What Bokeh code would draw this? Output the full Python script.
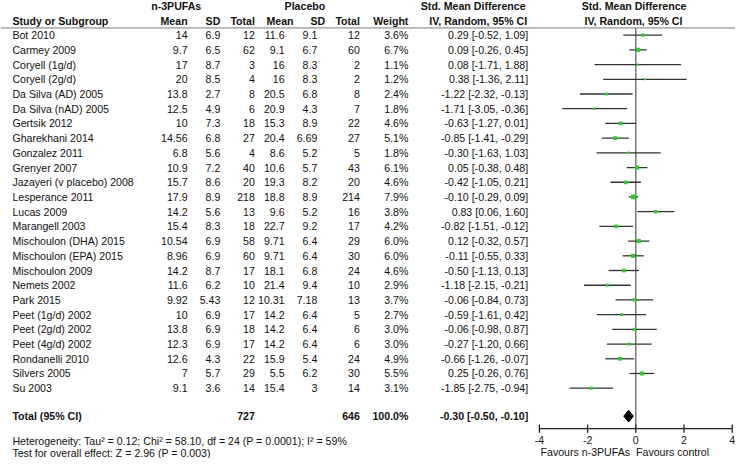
from bokeh.plotting import figure
from bokeh.models import Range1d, ColumnDataSource
from bokeh.embed import file_html
from bokeh.resources import INLINE
from bokeh.core.properties import value

# ---------------- data ----------------
studies = ["Bot 2010", "Carmey 2009", "Coryell (1g/d)", "Coryell (2g/d)", "Da Silva (AD) 2005",
           "Da Silva (nAD) 2005", "Gertsik 2012", "Gharekhani 2014", "Gonzalez 2011", "Grenyer 2007",
           "Jazayeri (v placebo) 2008", "Lesperance 2011", "Lucas 2009", "Marangell 2003",
           "Mischoulon (DHA) 2015", "Mischoulon (EPA) 2015", "Mischoulon 2009", "Nemets 2002",
           "Park 2015", "Peet (1g/d) 2002", "Peet (2g/d) 2002", "Peet (4g/d) 2002",
           "Rondanelli 2010", "Silvers 2005", "Su 2003"]
n3_mean = [14, 9.7, 17, 20, 13.8, 12.5, 10, 14.56, 6.8, 10.9, 15.7, 17.9, 14.2, 15.4, 10.54, 8.96,
           14.2, 11.6, 9.92, 10, 13.8, 12.3, 12.6, 7, 9.1]
n3_sd = [6.9, 6.5, 8.7, 8.5, 2.7, 4.9, 7.3, 6.8, 5.6, 7.2, 8.6, 8.9, 5.6, 8.3, 6.9, 6.9, 8.7, 6.2,
         5.43, 6.9, 6.9, 6.9, 4.3, 5.7, 3.6]
n3_total = [12, 62, 3, 4, 8, 6, 18, 27, 4, 40, 20, 218, 13, 18, 58, 60, 17, 10, 12, 17, 18, 17, 22, 29, 14]
pl_mean = [11.6, 9.1, 16, 16, 20.5, 20.9, 15.3, 20.4, 8.6, 10.6, 19.3, 18.8, 9.6, 22.7, 9.71, 9.71,
           18.1, 21.4, 10.31, 14.2, 14.2, 14.2, 15.9, 5.5, 15.4]
pl_sd = [9.1, 6.7, 8.3, 8.3, 6.8, 4.3, 8.9, 6.69, 5.2, 5.7, 8.2, 8.9, 5.2, 9.2, 6.4, 6.4, 6.8, 9.4,
         7.18, 6.4, 6.4, 6.4, 5.4, 6.2, 3]
pl_total = [12, 60, 2, 2, 8, 7, 22, 27, 5, 43, 20, 214, 16, 17, 29, 30, 24, 10, 13, 5, 6, 6, 24, 30, 14]
weight = [3.6, 6.7, 1.1, 1.2, 2.4, 1.8, 4.6, 5.1, 1.8, 6.1, 4.6, 7.9, 3.8, 4.2, 6.0, 6.0, 4.6, 2.9,
          3.7, 2.7, 3.0, 3.0, 4.9, 5.5, 3.1]
smd = [0.29, 0.09, 0.08, 0.38, -1.22, -1.71, -0.63, -0.85, -0.30, 0.05, -0.42, -0.10, 0.83, -0.82,
       0.12, -0.11, -0.50, -1.18, -0.06, -0.59, -0.06, -0.27, -0.66, 0.25, -1.85]
ci_low = [-0.52, -0.26, -1.71, -1.36, -2.32, -3.05, -1.27, -1.41, -1.63, -0.38, -1.05, -0.29, 0.06,
          -1.51, -0.32, -0.55, -1.13, -2.15, -0.84, -1.61, -0.98, -1.20, -1.26, -0.26, -2.75]
ci_high = [1.09, 0.45, 1.88, 2.11, -0.13, -0.36, 0.01, -0.29, 1.03, 0.48, 0.21, 0.09, 1.60, -0.12,
           0.57, 0.33, 0.13, -0.21, 0.73, 0.42, 0.87, 0.66, -0.07, 0.76, -0.94]

total_n3 = 727
total_pl = 646
total_weight = 100.0
total_smd = -0.30
total_low = -0.50
total_high = -0.10

axis_ticks = [-4, -2, 0, 2, 4]
axis_labels = ["-4", "-2", "0", "2", "4"]

heterogeneity = "Heterogeneity: Tau\u00b2 = 0.12; Chi\u00b2 = 58.10, df = 24 (P = 0.0001); I\u00b2 = 59%"
overall = "Test for overall effect: Z = 2.96 (P = 0.003)"

# ---------------- layout ----------------
W, H = 735, 458
FONT = value("Liberation Sans")
FS = "10.6px"
TXT = "#111111"

rows = list(range(len(studies)))
src = ColumnDataSource(dict(
    row=rows,
    study=studies,
    n3m=[f"{v:g}" for v in n3_mean],
    n3s=[f"{v:g}" for v in n3_sd],
    n3t=[f"{v:g}" for v in n3_total],
    plm=[f"{v:g}" for v in pl_mean],
    pls=[f"{v:g}" for v in pl_sd],
    plt=[f"{v:g}" for v in pl_total],
    w=[f"{v:.1f}%" for v in weight],
    ci=[f"{e:.2f} [{l:.2f}, {h:.2f}]" for e, l, h in zip(smd, ci_low, ci_high)],
    est=smd, lo=ci_low, hi=ci_high,
    size=[1.6 * (v ** 0.5) + 0.3 for v in weight],
))

p = figure(width=W, height=H, output_backend="svg", toolbar_location=None,
           x_range=Range1d(0, W), y_range=Range1d(28.78, -2.357),
           x_axis_type=None, y_axis_type=None, min_border=0)
p.extra_x_ranges = {"smd": Range1d(-26.36, 4.137)}
p.xgrid.visible = False
p.ygrid.visible = False
p.outline_line_color = None
p.background_fill_color = "white"
p.border_fill_color = "white"


def txt(x, y, t, align="left", bold=False, source=None, **kw):
    args = dict(x=x, y=y, text=t, text_align=align, text_baseline="middle",
                text_font=FONT, text_font_size=FS, text_color=TXT,
                text_font_style="bold" if bold else "normal")
    args.update(kw)
    if source is not None:
        args["source"] = source
    p.text(**args)


# column anchors (screen units)
X_STUDY, X_N3M, X_N3S, X_N3T = 11.9, 187.1, 219.8, 254.4
X_PLM, X_PLS, X_PLT = 284.1, 316.8, 359.4
X_W, X_CI = 407.9, 527.7

# headers
HY1, HY2, HLINE = -1.962, -0.948, -0.490
txt(175.7, HY1, ["n-3PUFAs"], "center", True)
txt(304.4, HY1, ["Placebo"], "center", True)
txt(472.7, HY1, ["Std. Mean Difference"], "center", True)
txt(633.6, HY1, ["Std. Mean Difference"], "center", True)
txt(X_STUDY, HY2, ["Study or Subgroup"], "left", True)
txt(X_N3M, HY2, ["Mean"], "right", True)
txt(X_N3S, HY2, ["SD"], "right", True)
txt(X_N3T, HY2, ["Total"], "right", True)
txt(293.0, HY2, ["Mean"], "right", True)
txt(324.7, HY2, ["SD"], "right", True)
txt(X_PLT, HY2, ["Total"], "right", True)
txt(X_W, HY2, ["Weight"], "right", True)
txt(477.7, HY2, ["IV, Random, 95% CI"], "center", True)
txt(633.0, HY2, ["IV, Random, 95% CI"], "center", True)
p.segment(x0=[0], x1=[W], y0=[HLINE], y1=[HLINE], line_color="#7a7a7a", line_width=1)

# study rows
txt(X_STUDY, "row", "study", "left", source=src)
txt(X_N3M, "row", "n3m", "right", source=src)
txt(X_N3S, "row", "n3s", "right", source=src)
txt(X_N3T, "row", "n3t", "right", source=src)
txt(X_PLM, "row", "plm", "right", source=src)
txt(X_PLS, "row", "pls", "right", source=src)
txt(X_PLT, "row", "plt", "right", source=src)
txt(X_W, "row", "w", "right", source=src)
txt(X_CI, "row", "ci", "right", source=src)

# total row
TROW = 25.90
txt(X_STUDY, TROW, ["Total (95% CI)"], "left", True)
txt(X_N3T, TROW, [f"{total_n3}"], "right", True)
txt(X_PLT, TROW, [f"{total_pl}"], "right", True)
txt(X_W, TROW, [f"{total_weight:.1f}%"], "right", True)
txt(X_CI, TROW, [f"{total_smd:.2f} [{total_low:.2f}, {total_high:.2f}]"], "right", True)

# footnotes
txt(X_STUDY, 27.60, [heterogeneity], "left")
txt(X_STUDY, 28.38, [overall], "left")

# forest plot
AXY = 26.75
p.segment(x0=[0], x1=[0], y0=[HLINE], y1=[AXY], line_color="#555555", line_width=1.2,
          x_range_name="smd")
p.segment(x0="lo", x1="hi", y0="row", y1="row", source=src, line_color="#333333",
          line_width=1.3, x_range_name="smd")
p.scatter(x="est", y="row", size="size", marker="square", source=src,
          fill_color="#2ecc2e", line_color=None, x_range_name="smd")
DH = 0.40
p.patch(x=[total_low, total_smd, total_high, total_smd],
        y=[TROW, TROW - DH, TROW, TROW + DH],
        fill_color="black", line_color="black", line_width=1, x_range_name="smd")

# axis
p.segment(x0=[axis_ticks[0]], x1=[axis_ticks[-1]], y0=[AXY], y1=[AXY], line_color="#222222",
          line_width=1.3, x_range_name="smd")
p.segment(x0=axis_ticks, x1=axis_ticks, y0=[AXY - 0.28] * len(axis_ticks),
          y1=[AXY + 0.28] * len(axis_ticks), line_color="#222222", line_width=1.3,
          x_range_name="smd")
p.text(x=axis_ticks, y=[27.54] * len(axis_ticks), text=axis_labels, text_align="center",
       text_baseline="middle", text_font=FONT, text_font_size=FS, text_color=TXT,
       x_range_name="smd")
p.text(x=[-0.24], y=[28.32], text=["Favours n-3PUFAs"], text_align="right",
       text_baseline="middle", text_font=FONT, text_font_size=FS, text_color=TXT,
       x_range_name="smd")
p.text(x=[0.01], y=[28.32], text=["Favours control"], text_align="left",
       text_baseline="middle", text_font=FONT, text_font_size=FS, text_color=TXT,
       x_range_name="smd")

open("out.html", "w").write(file_html(p, INLINE))
